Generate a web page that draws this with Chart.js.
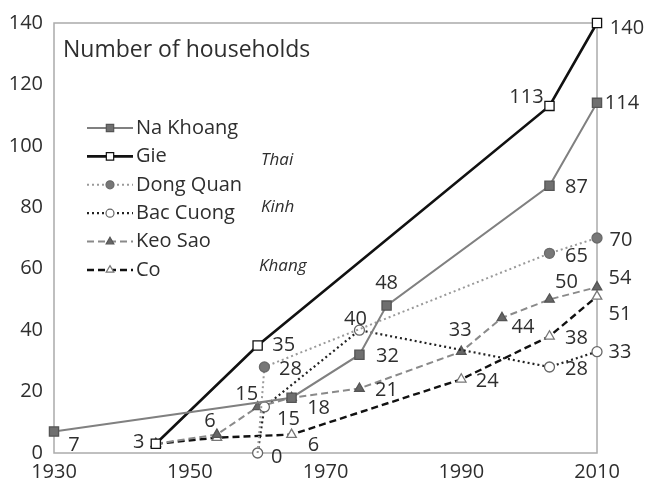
<!DOCTYPE html>
<html>
<head>
<meta charset="utf-8">
<script src="https://cdn.jsdelivr.net/npm/chart.js@4/dist/chart.umd.min.js"></script>
<style>
  html, body { margin: 0; padding: 0; background: #fff; }
  #wrap { width: 647px; height: 488px; }
</style>
</head>
<body>
<div id="wrap"><canvas id="c" width="647" height="488"></canvas></div>
<script>
// Axis ticks
const yearTicks = [1930, 1950, 1970, 1990, 2010];
const householdTicks = [0, 20, 40, 60, 80, 100, 120, 140];

// Households per village, by survey year
const naKhoangYears = [1930, 1965, 1975, 1979, 2003, 2010];
const naKhoangValues = [7, 18, 32, 48, 87, 114];

const gieYears = [1945, 1960, 2003, 2010];
const gieValues = [3, 35, 113, 140];

const dongQuanYears = [1960, 1961, 2003, 2010];
const dongQuanValues = [0, 28, 65, 70];

const bacCuongYears = [1960, 1961, 1975, 2003, 2010];
const bacCuongValues = [0, 15, 40, 28, 33];

const keoSaoYears = [1945, 1954, 1960, 1965, 1975, 1990, 1996, 2003, 2010];
const keoSaoValues = [3, 6, 15, 18, 21, 33, 44, 50, 54];

const coYears = [1945, 1954, 1965, 1990, 2003, 2010];
const coValues = [3, 5, 6, 24, 38, 51];

const villageNames = ['Na Khoang', 'Gie', 'Dong Quan', 'Bac Cuong', 'Keo Sao', 'Co'];
const ethnicGroups = ['Thai', 'Kinh', 'Khang'];
const chartTitle = 'Number of households';

// Where each value label sits relative to its point (null = no label)
const labelOffsets = [
  [[20, 14], [27, 11], [28, 2], [0, -22], [27, 2], [25, 0]],
  [[-17, -1], [26, 0], [-23, -9], [30, 5]],
  [null, [26, 2], [27, 3], [24, 2]],
  [[19, 4], [24, 12], [-4, -11], [27, 2], [23, 1]],
  [null, [-7, -13], [-11, -13], null, [27, 2], [-1, -21], [21, 9], [17, -17], [23, -9]],
  [null, null, [22, 11], [26, 2], [27, 2], [23, 18]]
];

const FONT = "'Open Sans', 'Liberation Sans', sans-serif";
const TEXT = '#2e2e2e';

function pts(xs, ys) { return xs.map((x, i) => ({ x: x, y: ys[i] })); }

const seriesStyles = [
  { line: '#808080', width: 2,   dash: [],     shape: 'rect',     r: 6.5, fill: '#6f6f6f', edge: '#555555' },
  { line: '#111111', width: 2.6, dash: [],     shape: 'rect',     r: 6.5, fill: '#ffffff', edge: '#111111' },
  { line: '#9a9a9a', width: 2,   dash: [2, 3], shape: 'circle',   r: 5,   fill: '#777777', edge: '#6a6a6a' },
  { line: '#222222', width: 2.2, dash: [2, 3], shape: 'circle',   r: 5,   fill: '#ffffff', edge: '#666666' },
  { line: '#8a8a8a', width: 2,   dash: [7, 4], shape: 'triangle', r: 5.5, fill: '#666666', edge: '#555555' },
  { line: '#111111', width: 2.4, dash: [7, 4], shape: 'triangle', r: 5.5, fill: '#ffffff', edge: '#777777' }
];

const seriesData = [
  pts(naKhoangYears, naKhoangValues),
  pts(gieYears, gieValues),
  pts(dongQuanYears, dongQuanValues),
  pts(bacCuongYears, bacCuongValues),
  pts(keoSaoYears, keoSaoValues),
  pts(coYears, coValues)
];

const datasets = seriesData.map((d, i) => {
  const s = seriesStyles[i];
  return {
    label: villageNames[i],
    data: d,
    showLine: true,
    borderColor: s.line,
    borderWidth: s.width,
    borderDash: s.dash,
    pointStyle: s.shape,
    // Dong Quan's first point shares Bac Cuong's marker at zero
    pointRadius: i === 2 ? (c => c.dataIndex === 0 ? 0 : s.r) : s.r,
    pointHoverRadius: s.r,
    pointBackgroundColor: s.fill,
    pointBorderColor: s.edge,
    pointBorderWidth: 1.3,
    tension: 0,
    clip: false
  };
});

const framePlugin = {
  id: 'frame',
  beforeDatasetsDraw(chart) {
    const a = chart.chartArea, ctx = chart.ctx;
    ctx.save();
    ctx.strokeStyle = '#ababab';
    ctx.lineWidth = 1.5;
    ctx.strokeRect(a.left, a.top, a.right - a.left, a.bottom - a.top);
    ctx.restore();
  }
};

const valueLabelPlugin = {
  id: 'valueLabels',
  afterDatasetsDraw(chart) {
    const ctx = chart.ctx;
    ctx.save();
    ctx.font = '20px ' + FONT;
    ctx.fillStyle = TEXT;
    ctx.textAlign = 'center';
    ctx.textBaseline = 'middle';
    chart.data.datasets.forEach((ds, i) => {
      const meta = chart.getDatasetMeta(i);
      meta.data.forEach((el, j) => {
        const off = labelOffsets[i][j];
        if (!off) return;
        ctx.fillText(String(ds.data[j].y), el.x + off[0], el.y + off[1]);
      });
    });
    ctx.restore();
  }
};

const legendPlugin = {
  id: 'insideLegend',
  afterDraw(chart) {
    const ctx = chart.ctx;
    ctx.save();
    // title
    ctx.font = '23px ' + FONT;
    ctx.fillStyle = TEXT;
    ctx.textAlign = 'left';
    ctx.textBaseline = 'middle';
    ctx.fillText(chartTitle, 63, 50);

    chart.data.datasets.forEach((ds, i) => {
      const s = seriesStyles[i];
      const y = 128 + i * 28.4;
      ctx.strokeStyle = s.line;
      ctx.lineWidth = s.width;
      ctx.setLineDash(s.dash);
      ctx.beginPath();
      ctx.moveTo(87, y);
      ctx.lineTo(133, y);
      ctx.stroke();
      ctx.setLineDash([]);
      ctx.fillStyle = s.fill;
      ctx.strokeStyle = s.edge;
      ctx.lineWidth = 1.2;
      Chart.helpers.drawPoint(ctx, { pointStyle: s.shape, radius: s.r * 0.8, rotation: 0, borderWidth: 1.2 }, 110, y);
      ctx.fillStyle = TEXT;
      ctx.font = '20px ' + FONT;
      ctx.fillText(ds.label, 136, y);
    });

    ctx.font = 'italic 17px ' + FONT;
    ctx.fillText(ethnicGroups[0], 261, 160);
    ctx.fillText(ethnicGroups[1], 261, 207);
    ctx.fillText(ethnicGroups[2], 259, 266);
    ctx.restore();
  }
};

new Chart(document.getElementById('c'), {
  type: 'scatter',
  data: { datasets: datasets },
  options: {
    responsive: false,
    animation: false,
    events: [],
    layout: { padding: { top: 19, right: 50, left: 0, bottom: 0 } },
    plugins: { legend: { display: false }, tooltip: { enabled: false } },
    scales: {
      x: {
        type: 'linear',
        min: yearTicks[0],
        max: yearTicks[yearTicks.length - 1],
        afterBuildTicks(scale) { scale.ticks = yearTicks.map(v => ({ value: v })); },
        afterFit(scale) { scale.height = 35; },
        grid: { display: false, drawTicks: false },
        border: { display: false },
        ticks: { padding: 7, color: TEXT, font: { family: FONT, size: 20 }, callback: v => String(v) }
      },
      y: {
        type: 'linear',
        min: householdTicks[0],
        max: householdTicks[householdTicks.length - 1],
        afterBuildTicks(scale) { scale.ticks = householdTicks.map(v => ({ value: v })); },
        afterFit(scale) { scale.width = 54; },
        grid: { display: false, drawTicks: false },
        border: { display: false },
        ticks: { padding: 11, color: TEXT, font: { family: FONT, size: 20 } }
      }
    }
  },
  plugins: [framePlugin, valueLabelPlugin, legendPlugin]
});
</script>
</body>
</html>
